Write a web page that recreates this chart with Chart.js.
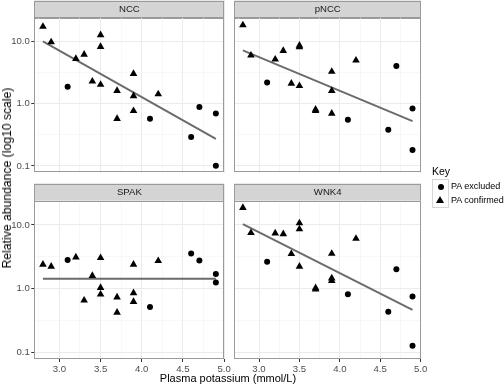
<!DOCTYPE html>
<html>
<head>
<meta charset="utf-8">
<script src="https://cdn.jsdelivr.net/npm/chart.js@4/dist/chart.umd.min.js"></script>
<style>
html,body{margin:0;padding:0;background:#fff;}
#fig{position:relative;width:504px;height:386px;overflow:hidden;background:#fff;font-family:"Liberation Sans",Arial,Helvetica,sans-serif;}
canvas{position:absolute;}
#xtitle{position:absolute;left:228px;top:372px;transform:translateX(-50%);font-size:11px;color:#000;white-space:nowrap;}
#ytitle{position:absolute;left:6.5px;top:178px;transform:translate(-50%,-50%) rotate(-90deg);font-size:12.2px;color:#000;white-space:nowrap;}
#legend{position:absolute;left:432px;top:165px;color:#000;}
#legend .ttl{font-size:10.5px;margin-bottom:2px;line-height:12px;}
#legend .row{position:relative;height:14px;}
#legend .key{position:absolute;left:0;top:0;width:15px;height:13px;border:1px solid #d6d6d6;background:#fff;}
#legend .row + .row .key{border-top:none;height:14px;top:0;}
#legend .lab{position:absolute;left:19px;top:0;font-size:9px;line-height:15px;white-space:nowrap;}
.dot{position:absolute;left:5px;top:4px;width:6px;height:6px;border-radius:50%;background:#000;}
.tri{position:absolute;left:3px;top:3px;width:0;height:0;border-left:4.5px solid transparent;border-right:4.5px solid transparent;border-bottom:7px solid #000;}
</style>
</head>
<body>
<div id="fig">
  <canvas id="c0" width="234" height="177" style="left:0;top:0"></canvas>
  <canvas id="c1" width="200" height="177" style="left:230px;top:0"></canvas>
  <canvas id="c2" width="234" height="190" style="left:0;top:183px"></canvas>
  <canvas id="c3" width="200" height="190" style="left:230px;top:183px"></canvas>
  <div id="xtitle">Plasma potassium (mmol/L)</div>
  <div id="ytitle">Relative abundance (log10 scale)</div>
  <div id="legend">
    <div class="ttl">Key</div>
    <div class="row"><div class="key"><div class="dot"></div></div><div class="lab">PA excluded</div></div>
    <div class="row"><div class="key"><div class="tri"></div></div><div class="lab">PA confirmed</div></div>
  </div>
</div>
<script>
// ---------- data ----------
const panelNames = ["NCC", "pNCC", "SPAK", "WNK4"];
const confirmedK = [2.8, 2.9, 3.2, 3.3, 3.4, 3.5, 3.5, 3.5, 3.7, 3.7, 3.9, 3.9, 3.9, 4.2];
const excludedK  = [3.1, 4.1, 4.6, 4.7, 4.9, 4.9];
const fitK = [2.8, 4.9];

const nccConfirmed  = [17, 9.6, 5.2, 6.1, 2.26, 12.5, 8.1, 2.0, 1.6, 0.57, 3.0, 1.32, 0.76, 1.41];
const nccExcluded   = [1.85, 0.57, 0.29, 0.88, 0.69, 0.10];
const nccFit        = [9.9, 0.27];

const pnccConfirmed = [18, 5.9, 5.1, 7.0, 2.09, 8.5, 8.0, 1.92, 0.80, 0.76, 3.24, 1.6, 0.69, 4.9];
const pnccExcluded  = [2.16, 0.55, 0.38, 4.0, 0.83, 0.18];
const pnccFit       = [7.1, 0.52];

const spakConfirmed = [2.39, 2.22, 3.1, 0.65, 1.59, 3.03, 1.03, 0.81, 0.73, 0.42, 2.39, 0.85, 0.62, 2.72];
const spakExcluded  = [2.82, 0.51, 3.54, 2.75, 1.69, 1.24];
const spakFit       = [1.42, 1.42];

const wnk4Confirmed = [18.6, 7.5, 7.4, 7.2, 3.5, 10.7, 8.6, 2.22, 1.02, 0.97, 3.54, 1.45, 1.32, 6.1];
const wnk4Excluded  = [2.63, 0.81, 0.43, 2.0, 0.75, 0.126];
const wnk4Fit       = [10.3, 0.46];

const xMajorTicks = [3.0, 3.5, 4.0, 4.5, 5.0];
const xMinorTicks = [2.75, 3.25, 3.75, 4.25, 4.75];
const xTickLabels = ["3.0", "3.5", "4.0", "4.5", "5.0"];
const yMajorTicks = [0.1, 1, 10];
const yMinorTicks = [0.316, 3.16];
const yTickLabels = ["0.1", "1.0", "10.0"];

// ---------- chart building ----------
const FONT = "'Liberation Sans', Arial, Helvetica, sans-serif";
const panelConfirmed = [nccConfirmed, pnccConfirmed, spakConfirmed, wnk4Confirmed];
const panelExcluded = [nccExcluded, pnccExcluded, spakExcluded, wnk4Excluded];
const panelFit = [nccFit, pnccFit, spakFit, wnk4Fit];

const stripPlugin = {
  id: 'strip',
  beforeDraw(chart) {
    const ctx = chart.ctx, a = chart.chartArea, tb = chart.titleBlock;
    ctx.save();
    ctx.fillStyle = '#d4d4d4';
    const top = tb.top + 0.5;
    ctx.fillRect(a.left, top, a.right - a.left, a.top - top);
    ctx.strokeStyle = '#9a9a9a';
    ctx.lineWidth = 1;
    ctx.strokeRect(Math.round(a.left) + 0.5, Math.round(top) + 0.5, Math.round(a.right - a.left) - 1, Math.round(a.top - top));
    ctx.restore();
  },
  afterDraw(chart) {
    const ctx = chart.ctx, a = chart.chartArea;
    ctx.save();
    ctx.strokeStyle = '#9a9a9a';
    ctx.lineWidth = 1;
    ctx.strokeRect(Math.round(a.left) + 0.5, Math.round(a.top) + 0.5, Math.round(a.right - a.left) - 1, Math.round(a.bottom - a.top) - 1);
    ctx.restore();
  }
};

function near(arr, v) {
  for (let i = 0; i < arr.length; i++) if (Math.abs(arr[i] - v) < 1e-6 * Math.max(1, Math.abs(v))) return i;
  return -1;
}

function makeChart(idx) {
  const leftCol = idx % 2 === 0;
  const bottomRow = idx >= 2;
  const conf = panelConfirmed[idx].map((y, i) => ({x: confirmedK[i], y}));
  const excl = panelExcluded[idx].map((y, i) => ({x: excludedK[i], y}));
  const fit = panelFit[idx].map((y, i) => ({x: fitK[i], y}));
  const gridColor = c => (c.tick && c.tick.major) ? '#ebebeb' : '#f3f3f3';
  const gridWidth = c => (c.tick && c.tick.major) ? 1 : 0.6;
  const tickCol = c => (c.tick && c.tick.major) ? '#333333' : 'rgba(0,0,0,0)';
  return new Chart(document.getElementById('c' + idx), {
    type: 'scatter',
    data: {
      datasets: [
        { label: 'fit', type: 'line', data: fit, borderColor: '#6b6b6b', borderWidth: 2, pointRadius: 0, fill: false, order: 3 },
        { label: 'PA excluded', data: excl, pointStyle: 'circle', pointRadius: 3, backgroundColor: '#000', borderColor: '#000', borderWidth: 0, order: 1 },
        { label: 'PA confirmed', data: conf, pointStyle: 'triangle', pointRadius: 4.4, backgroundColor: '#000', borderColor: '#000', borderWidth: 0, order: 2 }
      ]
    },
    options: {
      responsive: false,
      animation: false,
      devicePixelRatio: 1,
      events: [],
      layout: { padding: { left: leftCol ? 0 : 0.3, right: leftCol ? 9.5 : 9, top: 0, bottom: bottomRow ? 0 : 0.3 } },
      plugins: {
        legend: { display: false },
        tooltip: { enabled: false },
        title: {
          display: true, text: panelNames[idx], fullSize: false, color: '#1a1a1a',
          font: { family: FONT, size: 9.6, weight: 'normal', lineHeight: 1.2 },
          padding: bottomRow ? { top: 3.4, bottom: 2.8 } : { top: 3.2, bottom: 2.6 }
        }
      },
      scales: {
        x: {
          type: 'linear', min: 2.695, max: 5.005,
          afterBuildTicks: s => {
            s.ticks = xMinorTicks.map(v => ({value: v, major: false}))
              .concat(xMajorTicks.map(v => ({value: v, major: true})))
              .sort((a, b) => a.value - b.value);
          },
          afterFit: s => { s.height = bottomRow ? 14 : 0; s.paddingLeft = 0; s.paddingRight = 0; },
          border: { display: false },
          grid: { color: gridColor, lineWidth: gridWidth, tickColor: tickCol, tickWidth: 1, tickLength: 3, drawTicks: bottomRow },
          ticks: {
            display: bottomRow, autoSkip: false, maxRotation: 0, padding: 1.5, color: '#4d4d4d',
            font: { family: FONT, size: 9.6 },
            callback: v => { const i = near(xMajorTicks, v); return i >= 0 ? xTickLabels[i] : ''; }
          }
        },
        y: {
          type: 'logarithmic', min: 0.078, max: 24,
          afterBuildTicks: s => {
            s.ticks = yMinorTicks.map(v => ({value: v, major: false}))
              .concat(yMajorTicks.map(v => ({value: v, major: true})))
              .sort((a, b) => a.value - b.value);
          },
          afterFit: s => { s.width = leftCol ? 34.3 : 0; s.paddingTop = 0; s.paddingBottom = 0; },
          border: { display: false },
          grid: { color: gridColor, lineWidth: gridWidth, tickColor: tickCol, tickWidth: 1, tickLength: 3, drawTicks: leftCol },
          ticks: {
            display: leftCol, autoSkip: false, padding: 1.5, color: '#4d4d4d',
            font: { family: FONT, size: 9.6 },
            callback: v => { const i = near(yMajorTicks, v); return i >= 0 ? yTickLabels[i] : ''; }
          }
        }
      }
    },
    plugins: [stripPlugin]
  });
}
for (let i = 0; i < 4; i++) makeChart(i);
</script>
</body>
</html>
